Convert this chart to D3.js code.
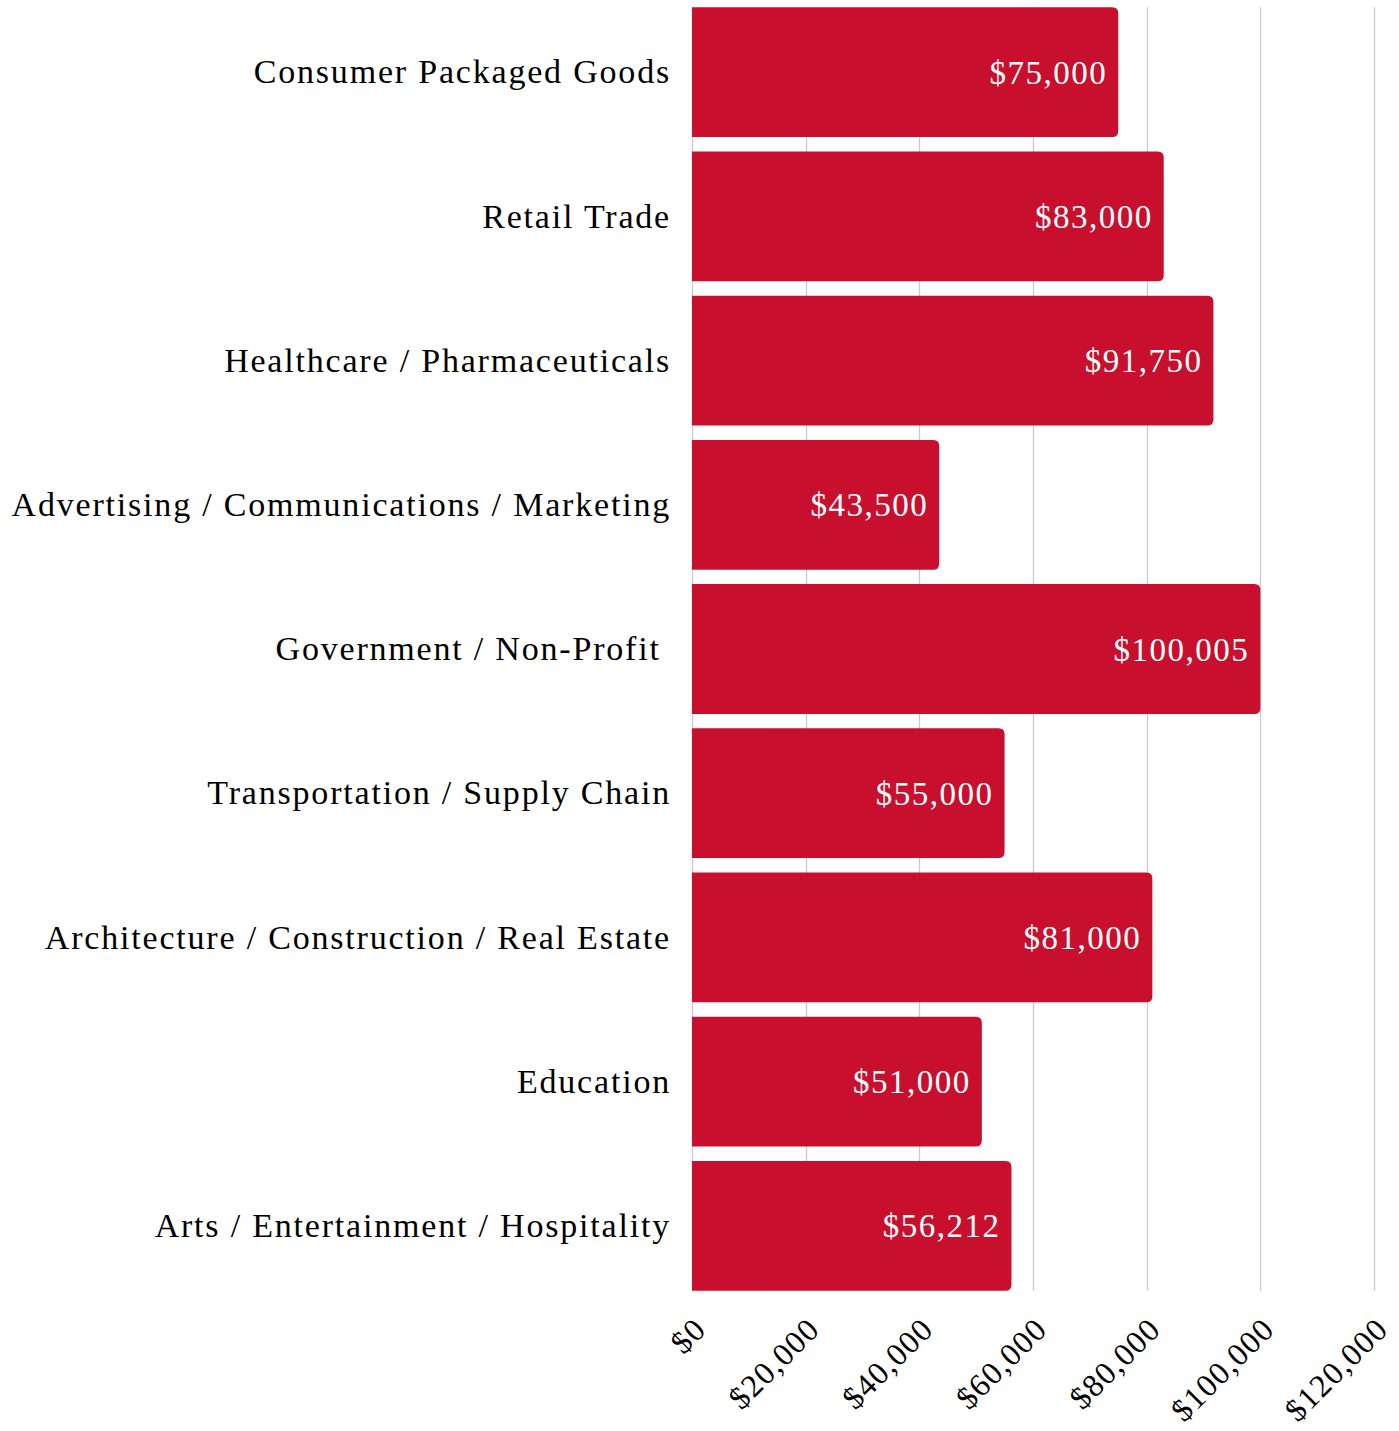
<!DOCTYPE html>
<html>
<head>
<meta charset="utf-8">
<script src="https://cdn.jsdelivr.net/npm/d3@7"></script>
<style>
  html, body { margin: 0; padding: 0; background: #fff; }
  svg { display: block; }
  text { font-family: "Liberation Serif", "Times New Roman", serif; }
</style>
</head>
<body>
<svg id="chart" width="1399" height="1431"></svg>
<script>
const categories = [
  "Consumer Packaged Goods",
  "Retail Trade",
  "Healthcare / Pharmaceuticals",
  "Advertising / Communications / Marketing",
  "Government / Non-Profit ",
  "Transportation / Supply Chain",
  "Architecture / Construction / Real Estate",
  "Education",
  "Arts / Entertainment / Hospitality"
];
const values = [75000, 83000, 91750, 43500, 100005, 55000, 81000, 51000, 56212];
const valueLabels = ["$75,000", "$83,000", "$91,750", "$43,500", "$100,005", "$55,000", "$81,000", "$51,000", "$56,212"];
const tickValues = [0, 20000, 40000, 60000, 80000, 100000, 120000];
const tickLabels = ["$0", "$20,000", "$40,000", "$60,000", "$80,000", "$100,000", "$120,000"];

const svg = d3.select("#chart");
const plot = { left: 692, right: 1374, top: 0, bottom: 1298 };

const x = d3.scaleLinear().domain([0, 120000]).range([plot.left, plot.right]);
const y = d3.scaleBand().domain(categories).range([plot.top, plot.bottom])
  .paddingInner(0.1).paddingOuter(0.05);

// gridlines
svg.append("g").selectAll("line").data(tickValues).join("line")
  .attr("x1", d => Math.round(x(d)) + 0.5).attr("x2", d => Math.round(x(d)) + 0.5)
  .attr("y1", y(categories[0])).attr("y2", y(categories[categories.length - 1]) + y.bandwidth())
  .attr("stroke", "#c9c9c9").attr("stroke-width", 1.3);

// bars with rounded right corners
const r = 6;
function barPath(d, i) {
  const x0 = x(0), x1 = x(d), y0 = y(categories[i]), h = y.bandwidth();
  return `M${x0},${y0} H${x1 - r} Q${x1},${y0} ${x1},${y0 + r} V${y0 + h - r} Q${x1},${y0 + h} ${x1 - r},${y0 + h} H${x0} Z`;
}
svg.append("g").selectAll("path").data(values).join("path")
  .attr("d", barPath).attr("fill", "#C8102E");

// value labels
svg.append("g").selectAll("text").data(values).join("text")
  .attr("x", d => x(d) - 11)
  .attr("y", (d, i) => y(categories[i]) + y.bandwidth() / 2)
  .attr("dy", "0.35em")
  .attr("text-anchor", "end")
  .attr("fill", "#ffffff")
  .attr("font-size", 33)
  .attr("letter-spacing", 1.5)
  .text((d, i) => valueLabels[i]);

// category labels
svg.append("g").selectAll("text").data(categories).join("text")
  .attr("x", plot.left - 21)
  .attr("y", d => y(d) + y.bandwidth() / 2)
  .attr("dy", "0.33em")
  .attr("text-anchor", "end")
  .attr("fill", "#000")
  .attr("font-size", 34)
  .attr("letter-spacing", 1.8)
  .style("white-space", "pre")
  .text(d => d);

// x axis tick labels rotated
svg.append("g").selectAll("text").data(tickValues).join("text")
  .attr("transform", (d, i) => `translate(${x(d) + 8},${1323}) rotate(-45)`)
  .attr("text-anchor", "end")
  .attr("dy", "0.35em")
  .attr("fill", "#000")
  .attr("font-size", 32)
  .attr("letter-spacing", 1.3)
  .text((d, i) => tickLabels[i]);
</script>
</body>
</html>
